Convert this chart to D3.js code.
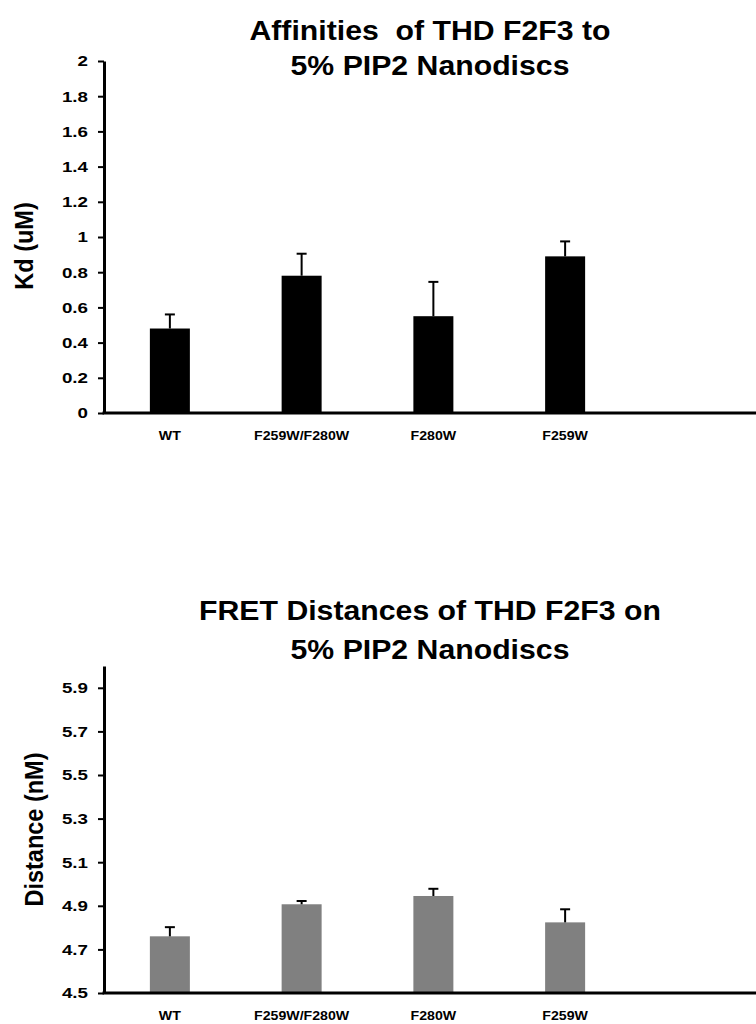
<!DOCTYPE html>
<html>
<head>
<meta charset="utf-8">
<script src="https://cdn.jsdelivr.net/npm/d3@7/dist/d3.min.js"></script>
<style>
    body { margin: 0; background: #fff; }
    svg text { font-family: "Liberation Sans", Arial, sans-serif; font-weight: bold; fill: #000; }
    svg text.title { white-space: pre; }
</style>
</head>
<body>
<div id="chart"></div>
<script>

var categories = ["WT", "F259W/F280W", "F280W", "F259W"];

var kdValues = [0.48, 0.78, 0.55, 0.89];
var kdErrors = [0.08, 0.125, 0.195, 0.085];
var kdTicks = [0, 0.2, 0.4, 0.6, 0.8, 1, 1.2, 1.4, 1.6, 1.8, 2];

var fretValues = [4.76, 4.907, 4.945, 4.824];
var fretErrors = [0.042, 0.015, 0.033, 0.06];
var fretTicks = [4.5, 4.7, 4.9, 5.1, 5.3, 5.5, 5.7, 5.9];


// the source picture is stretched sideways, texts get widened to match
var SX_TICK = 1.25
    , SX_CAT = 1.09
    , SX_TITLE = 1.12;

function barChart() {

    var width = 756
        , left = 104
        , step = 131.75
        , top
        , bottom
        , domain
        , ticks
        , values
        , errors
        , fill = "#000"
        , title
        , titleY
        , ytitle
        , ytitleX
        , ytitleY
        ;

    function my(selection) {
        selection.each(function() {

            var g = d3.select(this).append("g");

            var x = d3.scaleBand()
                .domain(categories)
                .range([left, left + step * categories.length]);

            var y = d3.scaleLinear()
                .domain(domain)
                .range([bottom, top]);

            var data = categories.map(function(c, i) {
                return {name: c, value: values[i], err: errors[i]};
            });

            var bar_w = 40, cap_w = 10;

            // bars
            g.selectAll("rect.bar")
                .data(data)
                .enter().append("rect")
                .attr("class", "bar")
                .attr("x", function(d) { return x(d.name) + x.bandwidth()/2 - bar_w/2 })
                .attr("width", bar_w)
                .attr("y", function(d) { return y(d.value) })
                .attr("height", function(d) { return y(domain[0]) - y(d.value) })
                .attr("fill", fill);

            // error bars, upper half only
            var err = g.selectAll("g.err")
                .data(data)
                .enter().append("g")
                .attr("class", "err")
                .attr("transform", function(d) { return "translate(" + (x(d.name) + x.bandwidth()/2) + ",0)" });

            err.append("line")
                .attr("y1", function(d) { return y(d.value) })
                .attr("y2", function(d) { return y(d.value + d.err) })
                .attr("stroke", "#000")
                .attr("stroke-width", 2);

            err.append("line")
                .attr("x1", -cap_w/2).attr("x2", cap_w/2)
                .attr("y1", function(d) { return y(d.value + d.err) })
                .attr("y2", function(d) { return y(d.value + d.err) })
                .attr("stroke", "#000")
                .attr("stroke-width", 2);

            // y axis
            var yAxis = d3.axisLeft(y)
                .tickValues(ticks)
                .tickSizeInner(6)
                .tickSizeOuter(0)
                .tickFormat(function(d) { return String(+d.toFixed(1)) });

            var gy = g.append("g")
                .attr("transform", "translate(" + left + ",0)")
                .call(yAxis);

            gy.select(".domain").attr("stroke-width", 3);
            gy.selectAll(".tick line").attr("stroke-width", 2);
            gy.selectAll(".tick text")
                .attr("font-size", 15)
                .attr("font-family", null)
                .attr("x", -16 / SX_TICK)
                .attr("transform", "scale(" + SX_TICK + ",1)");

            // x axis, runs off the right edge
            g.append("line")
                .attr("x1", left - 1.5).attr("x2", width)
                .attr("y1", y(domain[0])).attr("y2", y(domain[0]))
                .attr("stroke", "#000")
                .attr("stroke-width", 3);

            var xAxis = d3.axisBottom(x)
                .tickSize(0)
                .tickPadding(17.5);

            var gx = g.append("g")
                .attr("transform", "translate(0," + y(domain[0]) + ")")
                .call(xAxis);

            gx.select(".domain").remove();
            gx.selectAll(".tick text")
                .attr("font-size", 13)
                .attr("font-family", null)
                .attr("transform", "scale(" + SX_CAT + ",1)");

            // title, two lines
            var cx = (left + width) / 2;
            g.selectAll("text.title")
                .data(title)
                .enter().append("text")
                .attr("class", "title")
                .attr("text-anchor", "middle")
                .attr("font-size", 27)
                .attr("transform", function(d, i) {
                    return "translate(" + cx + "," + titleY[i] + ") scale(" + SX_TITLE + ",1)";
                })
                .text(function(d) { return d });

            var cy = ytitleY != null ? ytitleY : (top + bottom) / 2;
            g.append("text")
                .attr("text-anchor", "middle")
                .attr("font-size", 23.5)
                .attr("dy", "0.36em")
                .attr("transform", "translate(" + ytitleX + "," + cy + ") scale(" + SX_TITLE + ",1) rotate(-90)")
                .text(ytitle);
        });
    }

    my.top = function(value) { top = value; return my; };
    my.bottom = function(value) { bottom = value; return my; };
    my.domain = function(value) { domain = value; return my; };
    my.ticks = function(value) { ticks = value; return my; };
    my.values = function(value) { values = value; return my; };
    my.errors = function(value) { errors = value; return my; };
    my.fill = function(value) { fill = value; return my; };
    my.title = function(value, ys) { title = value; titleY = ys; return my; };
    my.ytitle = function(value, xc, yc) { ytitle = value; ytitleX = xc; ytitleY = yc; return my; };

    return my;
}


var svg = d3.select("#chart")
    .append("svg")
    .attr("width", 756)
    .attr("height", 1024);

svg.append("g").call(barChart()
    .top(61).bottom(413)
    .domain([0, 2])
    .ticks(kdTicks)
    .values(kdValues)
    .errors(kdErrors)
    .fill("#000")
    .title(["Affinities  of THD F2F3 to", "5% PIP2 Nanodiscs"], [40, 75])
    .ytitle("Kd (uM)", 24, 246));

svg.append("g").call(barChart()
    .top(666).bottom(993)
    .domain([4.5, 6])
    .ticks(fretTicks)
    .values(fretValues)
    .errors(fretErrors)
    .fill("#808080")
    .title(["FRET Distances of THD F2F3 on", "5% PIP2 Nanodiscs"], [620, 659])
    .ytitle("Distance (nM)", 34));

</script>
</body>
</html>
